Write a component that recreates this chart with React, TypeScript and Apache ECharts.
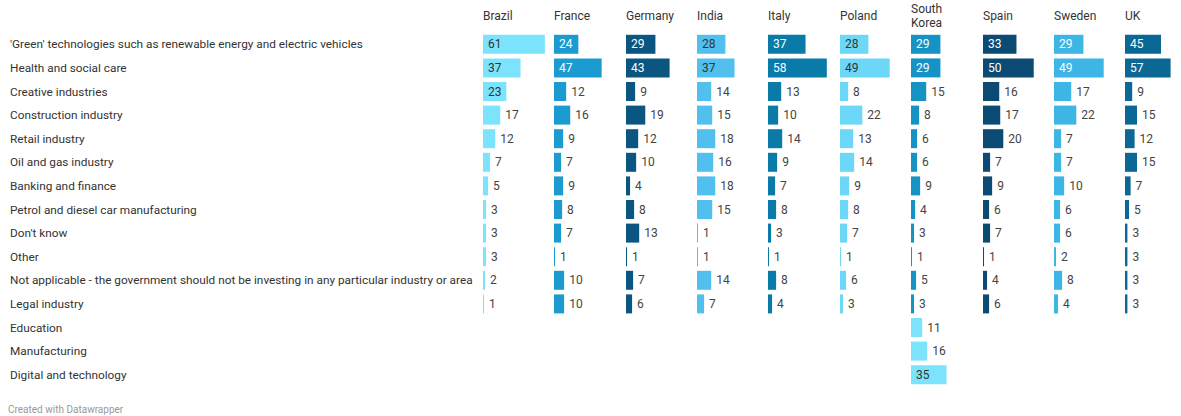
import React, { useEffect, useRef } from "react";
import * as echarts from "echarts";

const categories = [
  "'Green' technologies such as renewable energy and electric vehicles",
  "Health and social care",
  "Creative industries",
  "Construction industry",
  "Retail industry",
  "Oil and gas industry",
  "Banking and finance",
  "Petrol and diesel car manufacturing",
  "Don't know",
  "Other",
  "Not applicable - the government should not be investing in any particular industry or area",
  "Legal industry",
  "Education",
  "Manufacturing",
  "Digital and technology",
];

const countries = ["Brazil", "France", "Germany", "India", "Italy", "Poland", "South\nKorea", "Spain", "Sweden", "UK"];

const brazil = [61, 37, 23, 17, 12, 7, 5, 3, 3, 3, 2, 1, null, null, null];
const france = [24, 47, 12, 16, 9, 7, 9, 8, 7, 1, 10, 10, null, null, null];
const germany = [29, 43, 9, 19, 12, 10, 4, 8, 13, 1, 7, 6, null, null, null];
const india = [28, 37, 14, 15, 18, 16, 18, 15, 1, 1, 14, 7, null, null, null];
const italy = [37, 58, 13, 10, 14, 9, 7, 8, 3, 1, 8, 4, null, null, null];
const poland = [28, 49, 8, 22, 13, 14, 9, 8, 7, 1, 6, 3, null, null, null];
const southKorea = [29, 29, 15, 8, 6, 6, 9, 4, 3, 1, 5, 3, 11, 16, 35];
const spain = [33, 50, 16, 17, 20, 7, 9, 6, 7, 1, 4, 6, null, null, null];
const sweden = [29, 49, 17, 22, 7, 7, 10, 6, 6, 2, 8, 4, null, null, null];
const uk = [45, 57, 9, 15, 12, 15, 7, 5, 3, 3, 3, 3, null, null, null];

const seriesValues = [brazil, france, germany, india, italy, poland, southKorea, spain, sweden, uk];

const barColors = ["#7ce3fc", "#1c9bd0", "#0a5680", "#52c0ef", "#0a7aa8", "#6dd7f7", "#1593c4", "#0b4a72", "#3db6e6", "#0b6894"];
const insideTextColors = ["#333", "#fff", "#fff", "#333", "#fff", "#333", "#fff", "#fff", "#fff", "#fff"];
const extraRowColor = "#7ce3fc";
const columnLefts = [483, 554, 626, 697, 768, 840, 911, 983, 1054, 1125];

export default function App() {
  const ref = useRef<HTMLDivElement>(null);
  useEffect(() => {
    if (!ref.current) return;
    const chart = echarts.init(ref.current, null, { renderer: "svg" });
    const top = 32.5;
    const rowH = 23.6;
    const gridH = rowH * categories.length;
    const font = "Roboto, 'Noto Sans', sans-serif";

    const grids = columnLefts.map((l) => ({ left: l, top, width: 71, height: gridH, containLabel: false }));
    const xAxes = columnLefts.map((_, i) => ({
      type: "value",
      gridIndex: i,
      min: 0,
      max: 70,
      show: false,
    }));
    const yAxes = columnLefts.map((_, i) => ({
      type: "category",
      gridIndex: i,
      inverse: true,
      data: categories,
      axisLine: { show: false },
      axisTick: { show: false },
      splitLine: { show: false },
      axisLabel: i === 0
        ? { show: true, align: "left", margin: columnLefts[0] - 10, color: "#333", fontSize: 11.8, fontFamily: font }
        : { show: false },
    }));
    const series = seriesValues.map((vals, i) => ({
      type: "bar",
      name: countries[i],
      xAxisIndex: i,
      yAxisIndex: i,
      barWidth: 19,
      data: vals.map((v, r) => {
        if (v === null) return null;
        const extra = i === 6 && r >= 12;
        const color = extra ? extraRowColor : barColors[i];
        const inside = v >= 23;
        const inColor = extra ? "#333" : insideTextColors[i];
        return {
          value: v,
          itemStyle: { color },
          label: {
            show: true,
            position: inside ? "insideLeft" : "right",
            distance: 5,
            color: inside ? inColor : "#444",
            fontSize: 12,
            fontFamily: font,
          },
        };
      }),
    }));

    const graphics: any[] = countries.map((c, i) => ({
      type: "text",
      left: columnLefts[i],
      top: c.includes("\n") ? 2 : 9,
      style: { text: c, fill: "#333", font: `12px ${font}`, lineHeight: 14 },
    }));
    graphics.push({
      type: "text",
      left: 8,
      top: 404,
      style: { text: "Created with Datawrapper", fill: "#999", font: `10px ${font}` },
    });

    chart.setOption({
      animation: false,
      grid: grids,
      xAxis: xAxes,
      yAxis: yAxes,
      series,
      graphic: graphics,
    });
    return () => chart.dispose();
  }, []);
  return (
    <div
      ref={ref}
      style={{ position: "fixed", left: 0, top: 0, width: 1181, height: 416, background: "#fff" }}
    />
  );
}
